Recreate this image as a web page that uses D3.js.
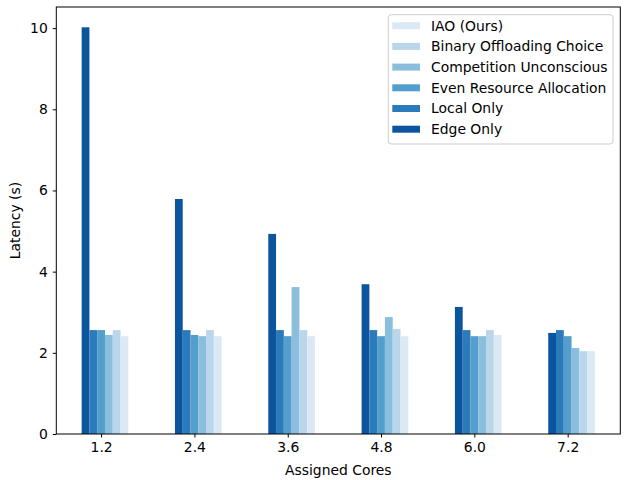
<!doctype html>
<html>
  <head>
    <meta charset="utf-8">
    <title>Latency vs assigned cores</title>
    <script src="https://cdnjs.cloudflare.com/ajax/libs/d3/7.8.5/d3.min.js"></script>
    <style>
      body { margin: 0; background: #fff; }
      text { font-family: "DejaVu Sans", sans-serif; }
    </style>
  </head>
  <body>
    <div id="chart"></div>
    <script>
      // data
      const cores = ['1.2', '2.4', '3.6', '4.8', '6.0', '7.2'];
      const seriesNames = ['Edge Only', 'Local Only', 'Even Resource Allocation',
                           'Competition Unconscious', 'Binary Offloading Choice', 'IAO (Ours)'];
      const edgeOnly    = [10.02, 5.79, 4.93, 3.69, 3.13, 2.49];
      const localOnly   = [2.56, 2.56, 2.56, 2.56, 2.56, 2.56];
      const evenAlloc   = [2.56, 2.44, 2.41, 2.41, 2.41, 2.41];
      const compUncons  = [2.44, 2.41, 3.62, 2.88, 2.41, 2.12];
      const binaryChoice = [2.56, 2.56, 2.56, 2.59, 2.56, 2.04];
      const iao         = [2.41, 2.41, 2.41, 2.41, 2.44, 2.04];
      const yTicks = [0, 2, 4, 6, 8, 10];

      const allSeries = [edgeOnly, localOnly, evenAlloc, compUncons, binaryChoice, iao];
      const colors = ['#0b559f', '#2b7bba', '#539ecd', '#89bedc', '#bad6eb', '#dbe9f6'];

      const width = 640, height = 480;
      const plot = { left: 56.3, right: 620.3, top: 7, bottom: 434 };

      const svg = d3.select('#chart').append('svg')
        .attr('width', width)
        .attr('height', height);

      // category positions as indices, like pandas does
      const x = d3.scaleLinear().domain([-0.48, 5.564]).range([plot.left, plot.right]);
      const y = d3.scaleLinear().domain([0, 10.52]).range([plot.bottom, plot.top]);

      const groupWidth = 0.5;
      const w = groupWidth / allSeries.length;

      allSeries.forEach((vals, s) => {
        svg.append('g')
          .selectAll('rect')
          .data(vals)
          .join('rect')
          .attr('x', (d, i) => x(i - groupWidth / 2 + (s + 0.5) * w))
          .attr('width', x(w) - x(0))
          .attr('y', d => y(d))
          .attr('height', d => y(0) - y(d))
          .attr('fill', colors[s]);
      });

      // axes
      const xAxis = d3.axisBottom(x)
        .tickValues(d3.range(cores.length))
        .tickFormat(i => cores[i])
        .tickSizeOuter(0)
        .tickSize(3.5)
        .tickPadding(5);
      const gx = svg.append('g').attr('transform', `translate(0,${plot.bottom})`).call(xAxis);

      const yAxis = d3.axisLeft(y)
        .tickValues(yTicks)
        .tickSizeOuter(0)
        .tickSize(3.5)
        .tickPadding(5);
      const gy = svg.append('g').attr('transform', `translate(${plot.left},0)`).call(yAxis);

      [gx, gy].forEach(g => {
        g.select('.domain').remove();
        g.selectAll('text').style('font-size', '13.9px').attr('fill', '#000');
        g.selectAll('line').attr('stroke', '#000').attr('stroke-width', 1);
      });

      // frame
      svg.append('rect')
        .attr('x', plot.left).attr('y', plot.top)
        .attr('width', plot.right - plot.left).attr('height', plot.bottom - plot.top)
        .attr('fill', 'none').attr('stroke', '#000').attr('stroke-width', 1);

      svg.append('text')
        .attr('x', (plot.left + plot.right) / 2).attr('y', 475)
        .attr('text-anchor', 'middle')
        .style('font-size', '13.9px')
        .text('Assigned Cores');

      svg.append('text')
        .attr('transform', `translate(20,${(plot.top + plot.bottom) / 2}) rotate(-90)`)
        .attr('text-anchor', 'middle')
        .style('font-size', '13.9px')
        .text('Latency (s)');

      // legend, reversed order like the reference
      const legend = svg.append('g');
      legend.append('rect')
        .attr('x', 388.3).attr('y', 14.7)
        .attr('width', 224.7).attr('height', 129.3)
        .attr('rx', 3)
        .attr('fill', 'rgba(255,255,255,0.8)')
        .attr('stroke', '#cccccc');

      const legendItems = seriesNames.map((n, i) => ({ name: n, color: colors[i] })).reverse();
      const rows = legend.selectAll('g.item')
        .data(legendItems)
        .join('g')
        .attr('transform', (d, i) => `translate(0,${25.7 + i * 20.7})`);
      rows.append('rect')
        .attr('x', 392.3).attr('y', -3.5)
        .attr('width', 27.7).attr('height', 7)
        .attr('fill', d => d.color);
      rows.append('text')
        .attr('x', 431).attr('y', 0)
        .attr('dy', '0.35em')
        .style('font-size', '13.9px')
        .text(d => d.name);
    </script>
  </body>
</html>
